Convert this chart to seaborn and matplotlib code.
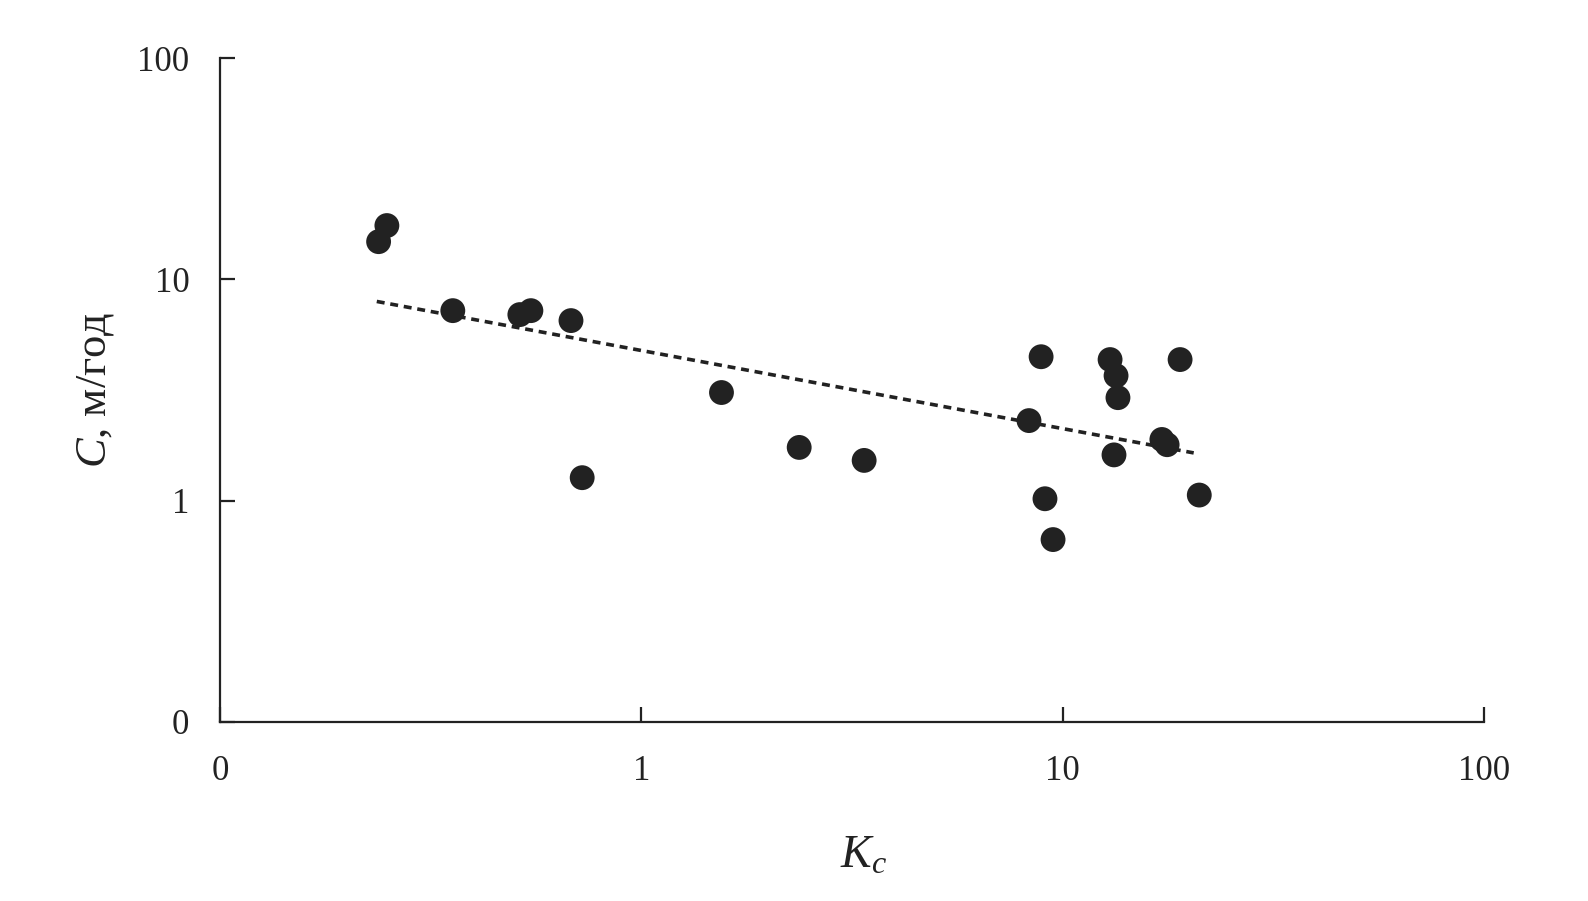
import numpy as np
import pandas as pd
import matplotlib
matplotlib.use("Agg")
import matplotlib.pyplot as plt
import seaborn as sns
from matplotlib.ticker import FixedLocator, FixedFormatter, NullLocator

kc = [0.238, 0.249, 0.357, 0.515, 0.547, 0.681, 0.724, 1.55, 2.37, 3.38,
      8.32, 8.89, 9.08, 9.49, 12.96, 13.24, 13.39, 13.53, 17.2, 17.7, 19.0, 21.1]
c_rate = [14.8, 17.5, 7.22, 6.93, 7.22, 6.51, 1.27, 3.08, 1.74, 1.52,
          2.30, 4.47, 1.02, 0.667, 4.34, 1.61, 3.67, 2.92, 1.89, 1.79, 4.34, 1.06]
tick_vals = [0.1, 1, 10, 100]
tick_labels = ["0", "1", "10", "100"]

sns.set_theme(style="white")
plt.rcParams['font.family'] = ['Liberation Serif', 'DejaVu Serif']
plt.rcParams['mathtext.fontset'] = 'custom'
plt.rcParams['mathtext.rm'] = 'Liberation Serif'
plt.rcParams['mathtext.it'] = 'Liberation Serif:italic'

df = pd.DataFrame({"Kc": kc, "C": c_rate})

fig = plt.figure(figsize=(15.88, 9.01), dpi=100)
ax = fig.add_axes([0.1385, 0.1987, 0.7960, 0.7369])

# power-law trend line fitted in log space
lx = np.log10(df["Kc"].values)
ly = np.log10(df["C"].values)
b, a = np.polyfit(lx, ly, 1)
xt = np.array([df["Kc"].min() * 0.99, df["Kc"].max() * 0.97])
yt = 10 ** (a + b * np.log10(xt))
ax.plot(xt, yt, color="#222222", lw=2.6, linestyle=(0, (2.2, 1.6)), zorder=2)

sns.scatterplot(data=df, x="Kc", y="C", ax=ax, s=320, color="#222222",
                edgecolor="none", linewidth=0, zorder=3)

ax.set_xscale("log")
ax.set_yscale("log")
ax.set_xlim(0.1, 100)
ax.set_ylim(0.1, 100)
for axis in (ax.xaxis, ax.yaxis):
    axis.set_major_locator(FixedLocator(tick_vals))
    axis.set_major_formatter(FixedFormatter(tick_labels))
    axis.set_minor_locator(NullLocator())

ax.tick_params(axis="both", which="major", direction="in", length=11, width=1.6,
               color="#222222", labelsize=25, labelcolor="#222222")
ax.tick_params(axis="x", pad=24)
ax.tick_params(axis="y", pad=22)
ax.tick_params(left=True, bottom=True)

for side in ("top", "right"):
    ax.spines[side].set_visible(False)
for side in ("left", "bottom"):
    ax.spines[side].set_color("#222222")
    ax.spines[side].set_linewidth(1.6)

ax.set_xlabel(r"$K_c$", fontsize=33, color="#222222")
ax.xaxis.set_label_coords(0.509, -0.170)
ax.set_ylabel(r"$C$, м/год", fontsize=32, color="#222222", labelpad=15)

fig.savefig("out.png", dpi=100, facecolor="white")
